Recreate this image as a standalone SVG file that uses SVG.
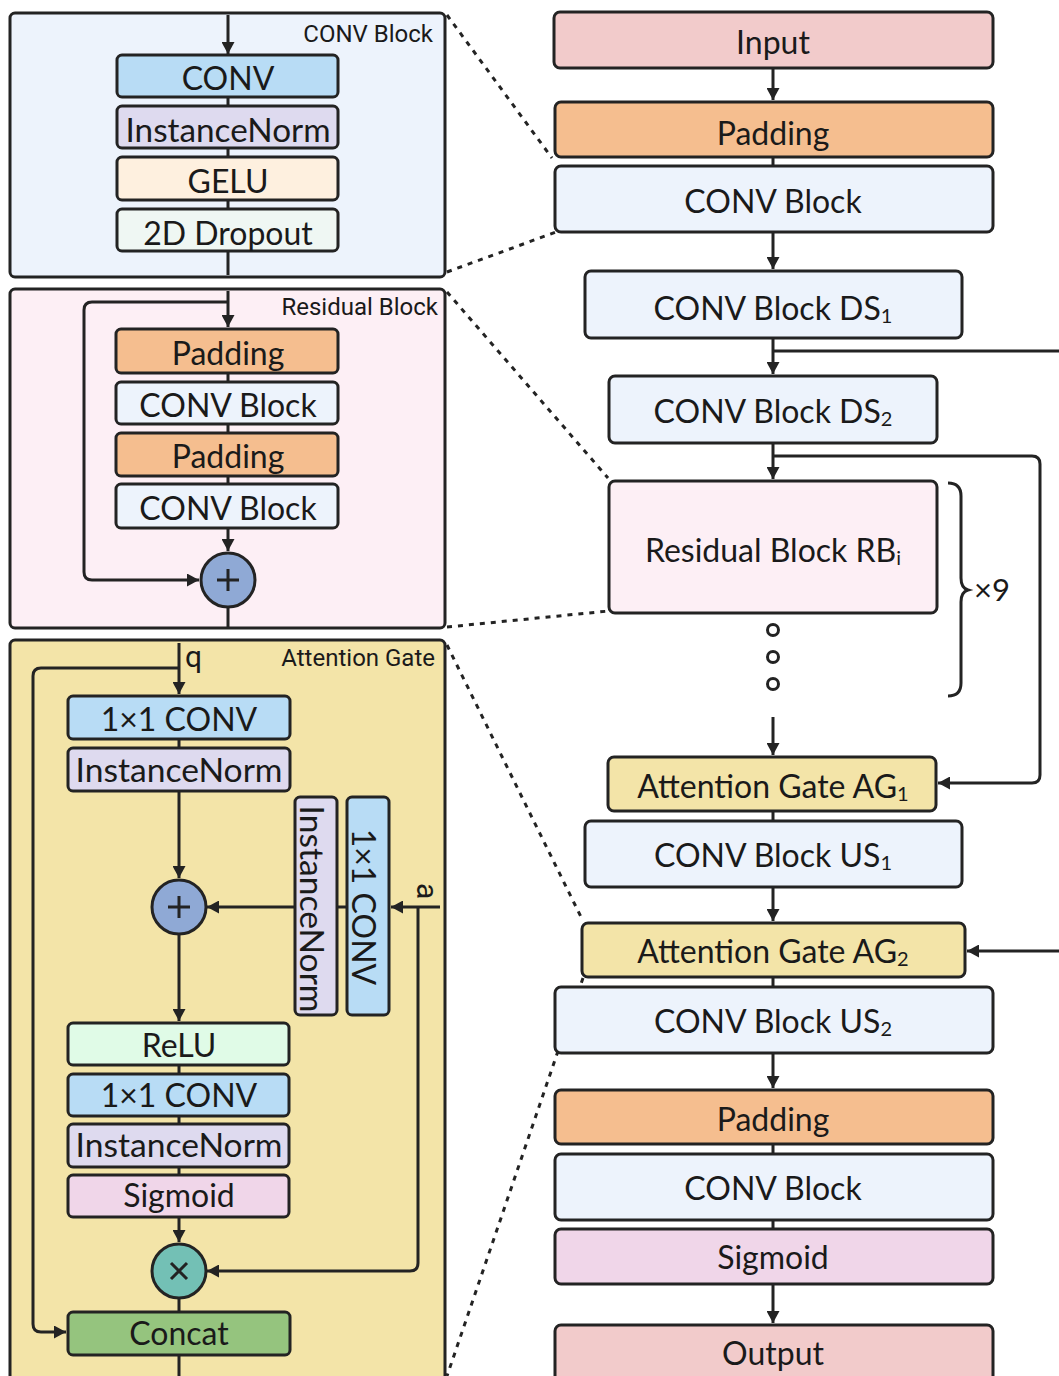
<svg xmlns="http://www.w3.org/2000/svg" width="1059" height="1376" viewBox="0 0 1059 1376">
<style>
.b{stroke:#232323;stroke-width:3}
.t{font-family:Lato,"Noto Sans",sans-serif;font-size:32px;fill:#1a1a1a;text-anchor:middle}
.lbl{font-family:Roboto,"Liberation Sans",sans-serif;font-size:24px;fill:#1a1a1a;text-anchor:end}
.io{font-family:Roboto,"Liberation Sans",sans-serif;font-size:30px;fill:#1a1a1a}
.c{fill:none;stroke:#232323;stroke-width:3}
.a{fill:none;stroke:#232323;stroke-width:3;marker-end:url(#ah)}
.d{fill:none;stroke:#232323;stroke-width:3;stroke-dasharray:5 6}
.sub{font-size:20px}
.blue{fill:#B8DCF5}.inorm{fill:#DEDAEF}.gelu{fill:#FEF0DF}.drop{fill:#EFF7F3}
.pad{fill:#F5BE8F}.cb{fill:#EDF3FC}.res{fill:#FDEFF5}.ag{fill:#F3E4A8}
.relu{fill:#E0FBE7}.sig{fill:#F0D6E9}.io-f{fill:#F2CBCB}.cat{fill:#95C47E}
</style>
<defs>
<marker id="ah" viewBox="0 0 12 13" refX="12" refY="6.5" markerWidth="12" markerHeight="13" markerUnits="userSpaceOnUse" orient="auto">
<path d="M0,0 L12,6.5 L0,13 z" fill="#232323"/>
</marker>
</defs>

<!-- panels -->
<g id="panel-conv-block">
<rect x="10" y="13" width="435" height="264" rx="5" class="b cb"/>
<text x="433" y="42" class="lbl">CONV Block</text>
</g>
<g id="panel-residual-block">
<rect x="10" y="289" width="435" height="339" rx="5" class="b res"/>
<text x="438" y="315" class="lbl">Residual Block</text>
</g>
<g id="panel-attention-gate">
<rect x="10" y="640" width="435" height="770" rx="5" class="b ag"/>
<text x="435" y="666" class="lbl">Attention Gate</text>
</g>

<!-- connectors -->
<g id="connectors">
<path class="a" d="M228,15 V54"/>
<path class="c" d="M228,97 V106 M228,148 V157 M228,200 V209 M228,251 V275"/>
<path class="a" d="M228,291 V327"/>
<path class="a" d="M228,302 H92 Q84,302 84,310 V572 Q84,580 92,580 H199"/>
<path class="c" d="M228,373 V382 M228,424 V433 M228,476 V484"/>
<path class="a" d="M228,528 V551"/>
<path class="c" d="M228,607 V627"/>
<path class="a" d="M179,643 V694"/>
<path class="a" d="M179,668 H41 Q33,668 33,676 V1324 Q33,1332 41,1332 H66"/>
<path class="c" d="M179,739 V748"/>
<path class="a" d="M179,791 V878"/>
<path class="a" d="M295,907 H207"/>
<path class="c" d="M337,907 H347"/>
<path class="a" d="M440,907 H391"/>
<path class="a" d="M418,907 V1263 Q418,1271 410,1271 H207"/>
<path class="a" d="M179,934 V1021"/>
<path class="c" d="M179,1065 V1074 M179,1116 V1124 M179,1167 V1175"/>
<path class="a" d="M179,1217 V1242"/>
<path class="c" d="M179,1298 V1312 M179,1355 V1376"/>
<path class="a" d="M773,68 V100"/>
<path class="c" d="M773,157 V166"/>
<path class="a" d="M773,232 V269"/>
<path class="a" d="M773,338 V374"/>
<path class="c" d="M773,351 H1059"/>
<path class="a" d="M773,443 V479"/>
<path class="a" d="M773,456 H1032 Q1040,456 1040,464 V775 Q1040,783 1032,783 H938"/>
<path class="a" d="M773,717 V755"/>
<path class="c" d="M773,811 V821"/>
<path class="a" d="M773,887 V921"/>
<path class="a" d="M1059,951 H967"/>
<path class="c" d="M773,977 V987"/>
<path class="a" d="M773,1053 V1088"/>
<path class="c" d="M773,1144 V1154 M773,1220 V1229"/>
<path class="a" d="M773,1284 V1323"/>
<path class="d" d="M447,15 L552,158"/>
<path class="d" d="M447,272 L556,232"/>
<path class="d" d="M447,292 L608,478"/>
<path class="d" d="M447,627 L609,611"/>
<path class="d" d="M447,645 L583,921"/>
<path class="d" d="M583,978 L447,1376"/>
</g>

<!-- CONV block panel nodes -->
<g id="cb-conv"><rect x="117" y="55" width="221" height="42" rx="5" class="b blue"/><text x="228" y="90" class="t">CONV</text></g>
<g id="cb-instancenorm"><rect x="117" y="106" width="221" height="42" rx="5" class="b inorm"/><text x="228" y="142" class="t" textLength="205" lengthAdjust="spacingAndGlyphs">InstanceNorm</text></g>
<g id="cb-gelu"><rect x="117" y="157" width="221" height="43" rx="5" class="b gelu"/><text x="228" y="193" class="t">GELU</text></g>
<g id="cb-dropout"><rect x="117" y="209" width="221" height="42" rx="5" class="b drop"/><text x="228" y="245" class="t">2D Dropout</text></g>

<!-- residual block panel nodes -->
<g id="rb-padding-1"><rect x="116" y="329" width="222" height="44" rx="5" class="b pad"/><text x="228" y="365" class="t">Padding</text></g>
<g id="rb-convblock-1"><rect x="116" y="382" width="222" height="42" rx="5" class="b cb"/><text x="228" y="417" class="t">CONV Block</text></g>
<g id="rb-padding-2"><rect x="116" y="433" width="222" height="43" rx="5" class="b pad"/><text x="228" y="468" class="t">Padding</text></g>
<g id="rb-convblock-2"><rect x="116" y="484" width="222" height="44" rx="5" class="b cb"/><text x="228" y="520" class="t">CONV Block</text></g>
<g id="rb-add"><circle cx="228" cy="580" r="27" fill="#8FA9D5" class="b"/><path class="c" d="M217,580 H239 M228,569 V591"/></g>

<!-- attention gate panel nodes -->
<g id="ag-q-label"><text x="185" y="667" class="io">q</text></g>
<g id="ag-a-label"><text x="417" y="883" class="io" transform="rotate(90 417 883)">a</text></g>
<g id="ag-conv-q"><rect x="68" y="696" width="222" height="43" rx="5" class="b blue"/><text x="179" y="731" class="t">1×1 CONV</text></g>
<g id="ag-inorm-q"><rect x="68" y="748" width="222" height="43" rx="5" class="b inorm"/><text x="179" y="782" class="t" textLength="207" lengthAdjust="spacingAndGlyphs">InstanceNorm</text></g>
<g id="ag-inorm-a"><rect x="295" y="797" width="42" height="218" rx="5" class="b inorm"/><text x="0" y="0" class="t" transform="translate(300 909) rotate(90)" textLength="207" lengthAdjust="spacingAndGlyphs">InstanceNorm</text></g>
<g id="ag-conv-a"><rect x="347" y="797" width="42" height="218" rx="5" class="b blue"/><text x="0" y="0" class="t" transform="translate(352 907) rotate(90)">1×1 CONV</text></g>
<g id="ag-add"><circle cx="179" cy="907" r="27" fill="#8FA9D5" class="b"/><path class="c" d="M168,907 H190 M179,896 V918"/></g>
<g id="ag-relu"><rect x="68" y="1023" width="221" height="42" rx="5" class="b relu"/><text x="179" y="1057" class="t">ReLU</text></g>
<g id="ag-conv-2"><rect x="68" y="1074" width="221" height="42" rx="5" class="b blue"/><text x="179" y="1107" class="t">1×1 CONV</text></g>
<g id="ag-inorm-2"><rect x="68" y="1124" width="221" height="43" rx="5" class="b inorm"/><text x="179" y="1157" class="t" textLength="207" lengthAdjust="spacingAndGlyphs">InstanceNorm</text></g>
<g id="ag-sigmoid"><rect x="68" y="1175" width="221" height="42" rx="5" class="b sig"/><text x="179" y="1207" class="t">Sigmoid</text></g>
<g id="ag-mul"><circle cx="179" cy="1271" r="27" fill="#73C0B5" class="b"/><path class="c" d="M171,1263 L187,1279 M187,1263 L171,1279"/></g>
<g id="ag-concat"><rect x="68" y="1312" width="222" height="43" rx="5" class="b cat"/><text x="179" y="1345" class="t">Concat</text></g>

<!-- main column nodes -->
<g id="input"><rect x="554" y="12" width="439" height="56" rx="6" class="b io-f"/><text x="773" y="54" class="t">Input</text></g>
<g id="padding-in"><rect x="555" y="102" width="438" height="55" rx="6" class="b pad"/><text x="773" y="145" class="t">Padding</text></g>
<g id="convblock-in"><rect x="555" y="166" width="438" height="66" rx="6" class="b cb"/><text x="773" y="213" class="t">CONV Block</text></g>
<g id="ds1"><rect x="585" y="271" width="377" height="67" rx="6" class="b cb"/><text x="773" y="320" class="t">CONV Block DS<tspan class="sub" dy="3">1</tspan></text></g>
<g id="ds2"><rect x="609" y="376" width="328" height="67" rx="6" class="b cb"/><text x="773" y="423" class="t">CONV Block DS<tspan class="sub" dy="3">2</tspan></text></g>
<g id="rb"><rect x="609" y="481" width="328" height="132" rx="6" class="b res"/><text x="773" y="562" class="t">Residual Block RB<tspan class="sub" dy="3">i</tspan></text></g>
<g id="rb-dots" fill="none" stroke="#232323" stroke-width="3"><circle cx="773" cy="630" r="5.5"/><circle cx="773" cy="657" r="5.5"/><circle cx="773" cy="684" r="5.5"/></g>
<g id="repeat-brace"><path class="c" d="M948,483 Q961,483 961,496 V578 Q961,588 968,590 Q961,592 961,602 V683 Q961,696 948,696"/><text x="974" y="601" style="font-family:Lato,'Noto Sans',sans-serif;font-size:31px;fill:#1a1a1a">×9</text></g>
<g id="ag1"><rect x="608" y="757" width="328" height="54" rx="6" class="b ag"/><text x="773" y="798" class="t">Attention Gate AG<tspan class="sub" dy="3">1</tspan></text></g>
<g id="us1"><rect x="585" y="821" width="377" height="66" rx="6" class="b cb"/><text x="773" y="867" class="t">CONV Block US<tspan class="sub" dy="3">1</tspan></text></g>
<g id="ag2"><rect x="582" y="923" width="383" height="54" rx="6" class="b ag"/><text x="773" y="963" class="t">Attention Gate AG<tspan class="sub" dy="3">2</tspan></text></g>
<g id="us2"><rect x="555" y="987" width="438" height="66" rx="6" class="b cb"/><text x="773" y="1033" class="t">CONV Block US<tspan class="sub" dy="3">2</tspan></text></g>
<g id="padding-out"><rect x="555" y="1090" width="438" height="54" rx="6" class="b pad"/><text x="773" y="1131" class="t">Padding</text></g>
<g id="convblock-out"><rect x="555" y="1154" width="438" height="66" rx="6" class="b cb"/><text x="773" y="1200" class="t">CONV Block</text></g>
<g id="sigmoid-out"><rect x="555" y="1229" width="438" height="55" rx="6" class="b sig"/><text x="773" y="1269" class="t">Sigmoid</text></g>
<g id="output"><rect x="555" y="1325" width="438" height="80" rx="6" class="b io-f"/><text x="773" y="1365" class="t">Output</text></g>
</svg>
